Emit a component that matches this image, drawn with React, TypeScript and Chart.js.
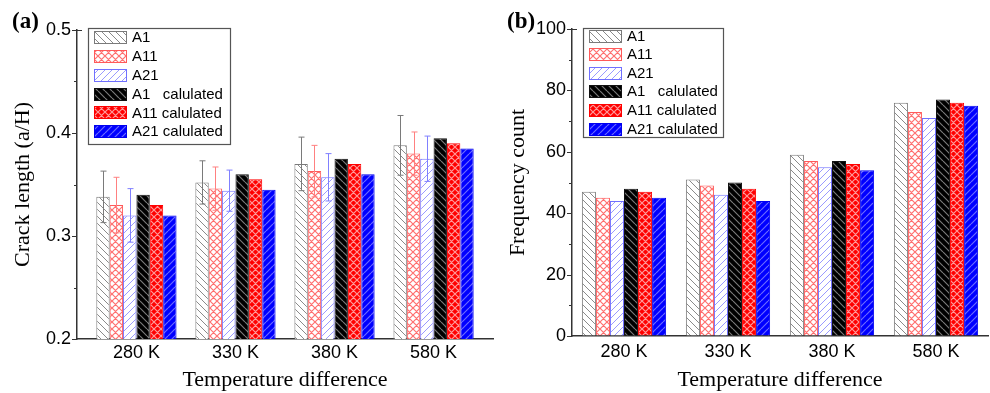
import React, { useEffect, useRef } from "react";
import { Chart, registerables } from "chart.js";

Chart.register(...registerables);

// ---------- data ----------
const categories = ["280 K", "330 K", "380 K", "580 K"];
const seriesNames = ["A1", "A11", "A21", "A1   calulated", "A11 calulated", "A21 calulated"];

const crackA1 = [0.338, 0.352, 0.37, 0.388];
const crackA11 = [0.33, 0.346, 0.363, 0.38];
const crackA21 = [0.32, 0.344, 0.357, 0.375];
const crackA1Calc = [0.34, 0.36, 0.375, 0.395];
const crackA11Calc = [0.33, 0.355, 0.37, 0.39];
const crackA21Calc = [0.32, 0.345, 0.36, 0.385];
const crackA1Err = [0.025, 0.021, 0.026, 0.029];
const crackA11Err = [0.027, 0.021, 0.025, 0.021];
const crackA21Err = [0.026, 0.02, 0.023, 0.022];

const freqA1 = [47, 51, 59, 76];
const freqA11 = [45, 49, 57, 73];
const freqA21 = [44, 46, 55, 71];
const freqA1Calc = [48, 50, 57, 77];
const freqA11Calc = [47, 48, 56, 76];
const freqA21Calc = [45, 44, 54, 75];

const crackTicks = [0.2, 0.3, 0.4, 0.5];
const freqTicks = [0, 20, 40, 60, 80, 100];

// ---------- styles ----------
type Kind = "back" | "fwd" | "cross";
const seriesStyle: { bg: string; line: string; kind: Kind; border: string; err: string; lw: number }[] = [
  { bg: "#ffffff", line: "#8a8a8a", kind: "back", border: "#7a7a7a", err: "#7a7a7a", lw: 1 },
  { bg: "#ffffff", line: "#ff7070", kind: "cross", border: "#ff5a5a", err: "#ff8080", lw: 1.2 },
  { bg: "#ffffff", line: "#9a9aff", kind: "fwd", border: "#7070ff", err: "#8080ff", lw: 1 },
  { bg: "#000000", line: "#7a7a7a", kind: "back", border: "#111111", err: "#000", lw: 1.2 },
  { bg: "#ff0000", line: "#ff9a9a", kind: "cross", border: "#ff0000", err: "#f00", lw: 1.2 },
  { bg: "#0000ff", line: "#6a6aff", kind: "fwd", border: "#0000ee", err: "#00f", lw: 1.2 },
];

function makePattern(ctx: CanvasRenderingContext2D, bg: string, line: string, kind: Kind, lw: number) {
  const size = 7;
  const c = document.createElement("canvas");
  c.width = size;
  c.height = size;
  const g = c.getContext("2d")!;
  g.fillStyle = bg;
  g.fillRect(0, 0, size, size);
  g.strokeStyle = line;
  g.lineWidth = lw;
  g.beginPath();
  for (let k = -1; k <= 1; k++) {
    if (kind === "back" || kind === "cross") {
      g.moveTo(k * size, 0);
      g.lineTo(k * size + size, size);
    }
    if (kind === "fwd" || kind === "cross") {
      g.moveTo(k * size + size, 0);
      g.lineTo(k * size, size);
    }
  }
  g.stroke();
  return ctx.createPattern(c, "repeat")!;
}

// ---------- plugins ----------
const errorBars = {
  id: "errorBars",
  afterDatasetsDraw(chart: any) {
    const { ctx } = chart;
    const ys = chart.scales.y;
    chart.data.datasets.forEach((ds: any, i: number) => {
      if (!ds.errors) return;
      const meta = chart.getDatasetMeta(i);
      ctx.save();
      ctx.strokeStyle = ds.errorColor;
      ctx.lineWidth = 1;
      meta.data.forEach((el: any, j: number) => {
        const v = ds.data[j].y;
        const e = ds.errors[j];
        const x = Math.round(el.x) + 0.5;
        const t = ys.getPixelForValue(v + e);
        const b = ys.getPixelForValue(v - e);
        ctx.beginPath();
        ctx.moveTo(x, t);
        ctx.lineTo(x, b);
        ctx.moveTo(x - 3, t);
        ctx.lineTo(x + 3, t);
        ctx.moveTo(x - 3, b);
        ctx.lineTo(x + 3, b);
        ctx.stroke();
      });
      ctx.restore();
    });
  },
};

const axisTicks = {
  id: "axisTicks",
  afterDraw(chart: any, _args: any, opts: any) {
    const { ctx, chartArea } = chart;
    const ys = chart.scales.y;
    const majors: number[] = opts.majors;
    const x0 = chartArea.left;
    ctx.save();
    ctx.strokeStyle = "#333";
    ctx.lineWidth = 1.2;
    ctx.beginPath();
    majors.forEach((v, i) => {
      const p = Math.round(ys.getPixelForValue(v)) + 0.5;
      ctx.moveTo(x0, p);
      ctx.lineTo(x0 - 5, p);
      if (i < majors.length - 1) {
        const m = Math.round(ys.getPixelForValue((v + majors[i + 1]) / 2)) + 0.5;
        ctx.moveTo(x0, m);
        ctx.lineTo(x0 - 3, m);
      }
    });
    const top = Math.round(chartArea.top) + 0.5;
    ctx.moveTo(x0, top);
    ctx.lineTo(x0 + 5, top);
    ctx.stroke();
    ctx.restore();
  },
};

const boxLegend = {
  id: "boxLegend",
  afterDraw(chart: any, _args: any, o: any) {
    const { ctx } = chart;
    ctx.save();
    ctx.fillStyle = "#ffffff";
    ctx.fillRect(o.x, o.y, o.w, o.h);
    ctx.strokeStyle = "#555";
    ctx.lineWidth = 1.2;
    ctx.strokeRect(o.x + 0.5, o.y + 0.5, o.w, o.h);
    chart.data.datasets.forEach((ds: any, i: number) => {
      const cy = o.row0 + i * o.gap;
      ctx.fillStyle = ds.backgroundColor;
      ctx.fillRect(o.x + 6, Math.round(cy - 6.5), 33, 13);
      ctx.strokeStyle = ds.borderColor;
      ctx.lineWidth = 1;
      ctx.strokeRect(o.x + 6.5, Math.round(cy - 6.5) + 0.5, 32, 12);
      ctx.fillStyle = "#000";
      ctx.font = '15px "Liberation Sans", Arial, sans-serif';
      ctx.textBaseline = "middle";
      ctx.textAlign = "left";
      ctx.fillText(ds.label, o.x + 44, cy + 0.5);
    });
    ctx.restore();
  },
};

// ---------- chart ----------
type PanelProps = {
  series: number[][];
  errors?: number[][];
  yTicks: number[];
  yTitle: string;
  yFormat: (v: number) => string;
  xMin: number;
  xMax: number;
  top: number;
  bottom: number;
  xTickPad: number;
  legend: { x: number; y: number; w: number; h: number; row0: number; gap: number };
};

function Panel(p: PanelProps) {
  const ref = useRef<HTMLCanvasElement | null>(null);
  useEffect(() => {
    const canvas = ref.current!;
    const ctx = canvas.getContext("2d")!;
    const datasets = p.series.map((vals, si) => {
      const st = seriesStyle[si];
      return {
        label: seriesNames[si],
        data: vals.map((v, i) => ({ x: i + 1, y: v })),
        backgroundColor: makePattern(ctx, st.bg, st.line, st.kind, st.lw),
        borderColor: st.border,
        borderWidth: 1,
        borderSkipped: "bottom",
        errors: p.errors ? p.errors[si] : undefined,
        errorColor: st.err,
      } as any;
    });
    const chart = new Chart(ctx, {
      type: "bar",
      data: { datasets },
      options: {
        responsive: false,
        animation: false,
        events: [],
        layout: { padding: { top: p.top, right: 2, left: 0, bottom: 0 } },
        datasets: { bar: { categoryPercentage: 0.81, barPercentage: 1.0 } } as any,
        scales: {
          x: {
            type: "linear",
            min: p.xMin,
            max: p.xMax,
            offset: false,
            bounds: "data",
            afterBuildTicks: (s: any) => {
              s.ticks = categories.map((_, i) => ({ value: i + 1 }));
            },
            afterFit: (s: any) => {
              s.height = 393 - p.bottom;
            },
            ticks: {
              autoSkip: false,
              maxRotation: 0,
              padding: p.xTickPad,
              color: "#000",
              font: { family: '"Liberation Sans", Arial, sans-serif', size: 18 },
              callback: (v: any) => categories[Math.round(Number(v)) - 1] ?? "",
            },
            grid: { drawOnChartArea: false, drawTicks: false, offset: false },
            border: { color: "#333", width: 1.5 },
            title: {
              display: true,
              text: "Temperature difference",
              color: "#000",
              font: { family: '"Liberation Serif", "Times New Roman", serif', size: 22 },
              padding: { top: 0, bottom: 0 },
            },
          } as any,
          y: {
            type: "linear",
            min: p.yTicks[0],
            max: p.yTicks[p.yTicks.length - 1],
            afterBuildTicks: (s: any) => {
              s.ticks = p.yTicks.map((v) => ({ value: v }));
            },
            afterFit: (s: any) => {
              s.width = 77;
            },
            ticks: {
              padding: 6,
              color: "#000",
              font: { family: '"Liberation Sans", Arial, sans-serif', size: 18 },
              callback: (v: any) => p.yFormat(Number(v)),
            },
            grid: { drawOnChartArea: false, drawTicks: false },
            border: { color: "#333", width: 1.5 },
            title: {
              display: true,
              text: p.yTitle,
              color: "#000",
              font: { family: '"Liberation Serif", "Times New Roman", serif', size: 22 },
              padding: { top: 10, bottom: 0 },
            },
          } as any,
        },
        plugins: {
          legend: { display: false },
          tooltip: { enabled: false },
          axisTicks: { majors: p.yTicks },
          boxLegend: p.legend,
        } as any,
      },
      plugins: [errorBars, axisTicks, boxLegend],
    });
    return () => chart.destroy();
  }, []);
  return <canvas ref={ref} width={495} height={393} style={{ display: "block", width: 495, height: 393 }} />;
}

const labelStyle: React.CSSProperties = {
  position: "absolute",
  top: 9,
  font: 'bold 23px "Liberation Serif", "Times New Roman", serif',
  lineHeight: "23px",
  color: "#000",
};

export default function App() {
  return (
    <div style={{ position: "absolute", left: 0, top: 0, width: 990, height: 393, background: "#fff" }}>
      <div style={{ position: "absolute", left: 0, top: 0 }}>
        <Panel
          series={[crackA1, crackA11, crackA21, crackA1Calc, crackA11Calc, crackA21Calc]}
          errors={[crackA1Err, crackA11Err, crackA21Err]}
          yTicks={crackTicks}
          yTitle="Crack length (a/H)"
          yFormat={(v) => v.toFixed(1)}
          xMin={0.4}
          xMax={4.6}
          top={30}
          bottom={339}
          xTickPad={3}
          legend={{ x: 88, y: 28, w: 142, h: 116, row0: 37.7, gap: 18.8 }}
        />
      </div>
      <div style={{ position: "absolute", left: 495, top: 0 }}>
        <Panel
          series={[freqA1, freqA11, freqA21, freqA1Calc, freqA11Calc, freqA21Calc]}
          yTicks={freqTicks}
          yTitle="Frequency count"
          yFormat={(v) => String(Math.round(v))}
          xMin={0.5}
          xMax={4.5}
          top={29}
          bottom={336}
          xTickPad={5}
          legend={{ x: 88, y: 28, w: 140, h: 109, row0: 36, gap: 18.6 }}
        />
      </div>
      <div style={{ ...labelStyle, left: 12 }}>(a)</div>
      <div style={{ ...labelStyle, left: 507 }}>(b)</div>
    </div>
  );
}
